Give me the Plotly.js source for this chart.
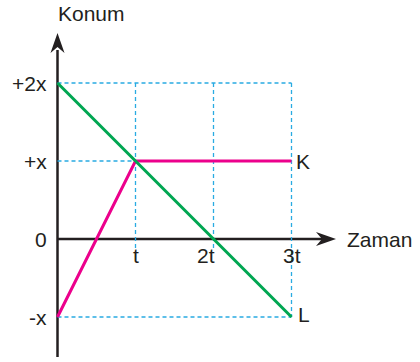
<!DOCTYPE html>
<html>
<head>
<meta charset="utf-8">
<script src="https://cdn.plot.ly/plotly-3.0.1.min.js"></script>
<style>html,body{margin:0;padding:0;background:#fff;}#chart{width:420px;height:362px;}</style>
</head>
<body>
<div id="chart"></div>
<script>
// Data
var timeTicks = [1, 2, 3];
var timeLabels = ['t', '2t', '3t'];
var posTicks = [2, 1, 0, -1];
var posLabels = ['+2x', '+x', '0', '-x'];
var kTime = [0, 1, 3];
var kPos = [-1, 1, 1];
var lTime = [0, 3];
var lPos = [2, -1];
var xTitle = 'Zaman';
var yTitle = 'Konum';

// Pixel scale
var X0 = 57.5, Y0 = 239, UX = 78, UY = 78, W = 420, H = 362;
var font = {family: 'Liberation Sans, Arial, sans-serif', size: 21, color: '#231f20'};
var cyan = '#29abe2';
var dashLine = {color: cyan, width: 1.3, dash: '4px,3px'};

var traces = [];
// guide dashed lines
traces.push({x: [0, 3], y: [2, 2], mode: 'lines', line: dashLine, hoverinfo: 'skip'});
traces.push({x: [0, kTime[1]], y: [kPos[1], kPos[1]], mode: 'lines', line: dashLine, hoverinfo: 'skip'});
traces.push({x: [0, 3], y: [-1, -1], mode: 'lines', line: dashLine, hoverinfo: 'skip'});
traces.push({x: [1, 1], y: [2, -0.12], mode: 'lines', line: dashLine, hoverinfo: 'skip'});
traces.push({x: [2, 2], y: [2, -0.12], mode: 'lines', line: dashLine, hoverinfo: 'skip'});
traces.push({x: [3, 3], y: [2, -1], mode: 'lines', line: dashLine, hoverinfo: 'skip'});
// K (magenta)
traces.push({x: kTime, y: kPos, mode: 'lines', line: {color: '#ec008c', width: 3}, hoverinfo: 'skip'});
// L (green)
traces.push({x: lTime, y: lPos, mode: 'lines', line: {color: '#00a651', width: 3}, hoverinfo: 'skip'});

var axisColor = '#231f20';
var shapes = [
  {type: 'line', x0: 0, x1: (330 - X0) / UX, y0: 0, y1: 0, line: {color: axisColor, width: 2.5}, layer: 'below'},
  {type: 'line', x0: 0, x1: 0, y0: (Y0 - 357) / UY, y1: (Y0 - 50) / UY, line: {color: axisColor, width: 2.5}, layer: 'below'},
  {type: 'path', xref: 'x', yref: 'y', xsizemode: 'pixel', ysizemode: 'pixel',
   xanchor: (336 - X0) / UX, yanchor: 0,
   path: 'M0,0 L-20,7 L-14,0 L-20,-7 Z', fillcolor: axisColor, line: {width: 0}},
  {type: 'path', xref: 'x', yref: 'y', xsizemode: 'pixel', ysizemode: 'pixel',
   xanchor: 0, yanchor: (Y0 - 33) / UY,
   path: 'M0,0 L-7,-20 L0,-14 L7,-20 Z', fillcolor: axisColor, line: {width: 0}}
];

var annotations = [];
posTicks.forEach(function (v, i) {
  annotations.push({x: 0, y: v, text: posLabels[i], showarrow: false, xanchor: 'right', yanchor: 'middle',
    xshift: -9, font: font});
});
var tShift = [0, -8, 0];
timeTicks.forEach(function (v, i) {
  annotations.push({x: v, y: 0, text: timeLabels[i], showarrow: false, xanchor: 'center', yanchor: 'top',
    yshift: -3, xshift: tShift[i], font: font});
});
annotations.push({x: 0, y: (Y0 - 13) / UY, text: yTitle, showarrow: false, xanchor: 'left', yanchor: 'middle', xshift: -2, font: font});
annotations.push({x: (345 - X0) / UX, y: 0, text: xTitle, showarrow: false, xanchor: 'left', yanchor: 'middle', font: font});
annotations.push({x: kTime[2], y: kPos[2], text: 'K', showarrow: false, xanchor: 'left', yanchor: 'middle', xshift: 2, font: font});
annotations.push({x: lTime[1], y: lPos[1], text: 'L', showarrow: false, xanchor: 'left', yanchor: 'middle', xshift: 4, yshift: 3, font: font});

var layout = {
  width: W, height: H,
  margin: {l: 0, r: 0, t: 0, b: 0, pad: 0},
  paper_bgcolor: '#fff', plot_bgcolor: '#fff',
  showlegend: false,
  xaxis: {range: [-X0 / UX, (W - X0) / UX], visible: false, fixedrange: true},
  yaxis: {range: [(Y0 - H) / UY, Y0 / UY], visible: false, fixedrange: true},
  shapes: shapes,
  annotations: annotations
};

Plotly.newPlot('chart', traces, layout, {displayModeBar: false, staticPlot: true});
</script>
</body>
</html>
